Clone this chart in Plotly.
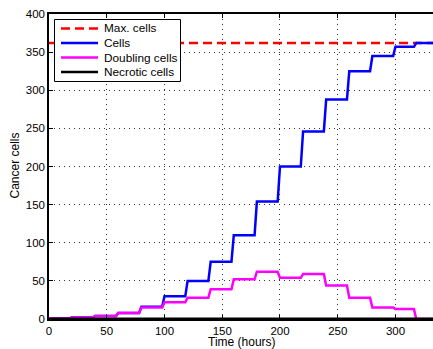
import plotly.graph_objects as go

# Data (levels per 20-hour interval)
step_starts = [0, 20, 40, 60, 80, 100, 120, 140, 160, 180, 200, 220, 240, 260, 280, 300, 318]
cells =       [1, 2, 4, 8, 16, 30, 50, 75, 110, 154, 200, 246, 288, 325, 345, 357, 362]
doubling =    [1, 2, 4, 8, 15, 22, 28, 39, 52, 62, 54, 59, 44, 28, 15, 13, 0]
max_cells = 362
t_end = 340
rise = 2  # hours over which each step rises

series_names = ["Max. cells", "Cells", "Doubling cells", "Necrotic cells"]
series_colors = ["#ff0000", "#0000ff", "#ff00ff", "#000000"]
series_dash = ["9px,5px", "solid", "solid", "solid"]
x_title = "Time (hours)"
y_title = "Cancer cells"


def stair(starts, levels, end):
    xs, ys = [], []
    for i, (s, v) in enumerate(zip(starts, levels)):
        nxt = starts[i + 1] - rise if i + 1 < len(starts) else end
        xs += [s, nxt]
        ys += [v, v]
    return xs, ys


cx, cy = stair(step_starts, cells, t_end)
dx, dy = stair(step_starts, doubling, t_end)

font = "Liberation Sans, Arial, Helvetica, sans-serif"
FS = 12
TFS = 11.5

fig = go.Figure()
fig.add_trace(go.Scatter(x=[0, t_end], y=[max_cells, max_cells], mode="lines",
                         name=series_names[0],
                         line=dict(color=series_colors[0], width=2.5, dash=series_dash[0])))
fig.add_trace(go.Scatter(x=cx, y=cy, mode="lines", name=series_names[1],
                         line=dict(color=series_colors[1], width=2.5)))
fig.add_trace(go.Scatter(x=dx, y=dy, mode="lines", name=series_names[2],
                         line=dict(color=series_colors[2], width=2.5)))
fig.add_trace(go.Scatter(x=[0, t_end], y=[0, 0], mode="lines", name=series_names[3],
                         line=dict(color=series_colors[3], width=3)))

# Manual compact legend (pixel layout converted to paper coordinates)
W, H = 433, 349
ML, MR, MT, MB = 49, 0, 14, 30
pw, ph = W - ML - MR, H - MT - MB


def px(x):
    return (x - ML) / pw


def py(y):
    return (H - MB - y) / ph


shapes = [dict(type="rect", xref="paper", yref="paper",
               x0=px(54.5), x1=px(180.5), y0=py(81.5), y1=py(19.5),
               line=dict(color="black", width=1), fillcolor="white", layer="above")]
annotations = []
rows = [28.5, 43, 57.5, 72]
for name, col, dash, ry in zip(series_names, series_colors, series_dash, rows):
    shapes.append(dict(type="line", xref="paper", yref="paper",
                       x0=px(61), x1=px(98), y0=py(ry), y1=py(ry),
                       line=dict(color=col, width=2.5, dash=dash), layer="above"))
    annotations.append(dict(xref="paper", yref="paper", x=px(101.5), y=py(ry),
                            text=name, showarrow=False, xanchor="left", yanchor="middle",
                            font=dict(size=11.8, color="black")))

# axis titles placed at the reference positions
annotations.append(dict(xref="paper", yref="paper", x=px(242), y=py(350), text=x_title,
                        showarrow=False, xanchor="center", yanchor="bottom",
                        font=dict(size=FS, color="black"), borderpad=0))
annotations.append(dict(xref="paper", yref="paper", x=px(14.5), y=py(166), text=y_title,
                        showarrow=False, xanchor="center", yanchor="middle", textangle=-90,
                        font=dict(size=FS, color="black")))

fig.update_layout(
    width=W, height=H,
    margin=dict(l=ML, r=MR, t=MT, b=MB),
    paper_bgcolor="white", plot_bgcolor="white",
    font=dict(family=font, size=FS, color="black"),
    showlegend=False,
    shapes=shapes, annotations=annotations,
    xaxis=dict(range=[0, 332.5], tickvals=[0, 50, 100, 150, 200, 250, 300],
               ticks="inside", ticklen=4, tickcolor="black", ticklabelstandoff=0,
               tickfont=dict(size=TFS),
               showline=True, linecolor="black", linewidth=1.5, mirror="ticks",
               showgrid=True, gridcolor="#333333", griddash="1px,4px", gridwidth=1,
               zeroline=False, automargin=False),
    yaxis=dict(range=[0, 400], tickvals=[0, 50, 100, 150, 200, 250, 300, 350, 400],
               ticks="inside", ticklen=4, tickcolor="black",
               tickfont=dict(size=TFS),
               showline=True, linecolor="black", linewidth=1.5,
               showgrid=True, gridcolor="#333333", griddash="1px,4px", gridwidth=1,
               zeroline=False, automargin=False),
)

fig.write_html("out.html")
